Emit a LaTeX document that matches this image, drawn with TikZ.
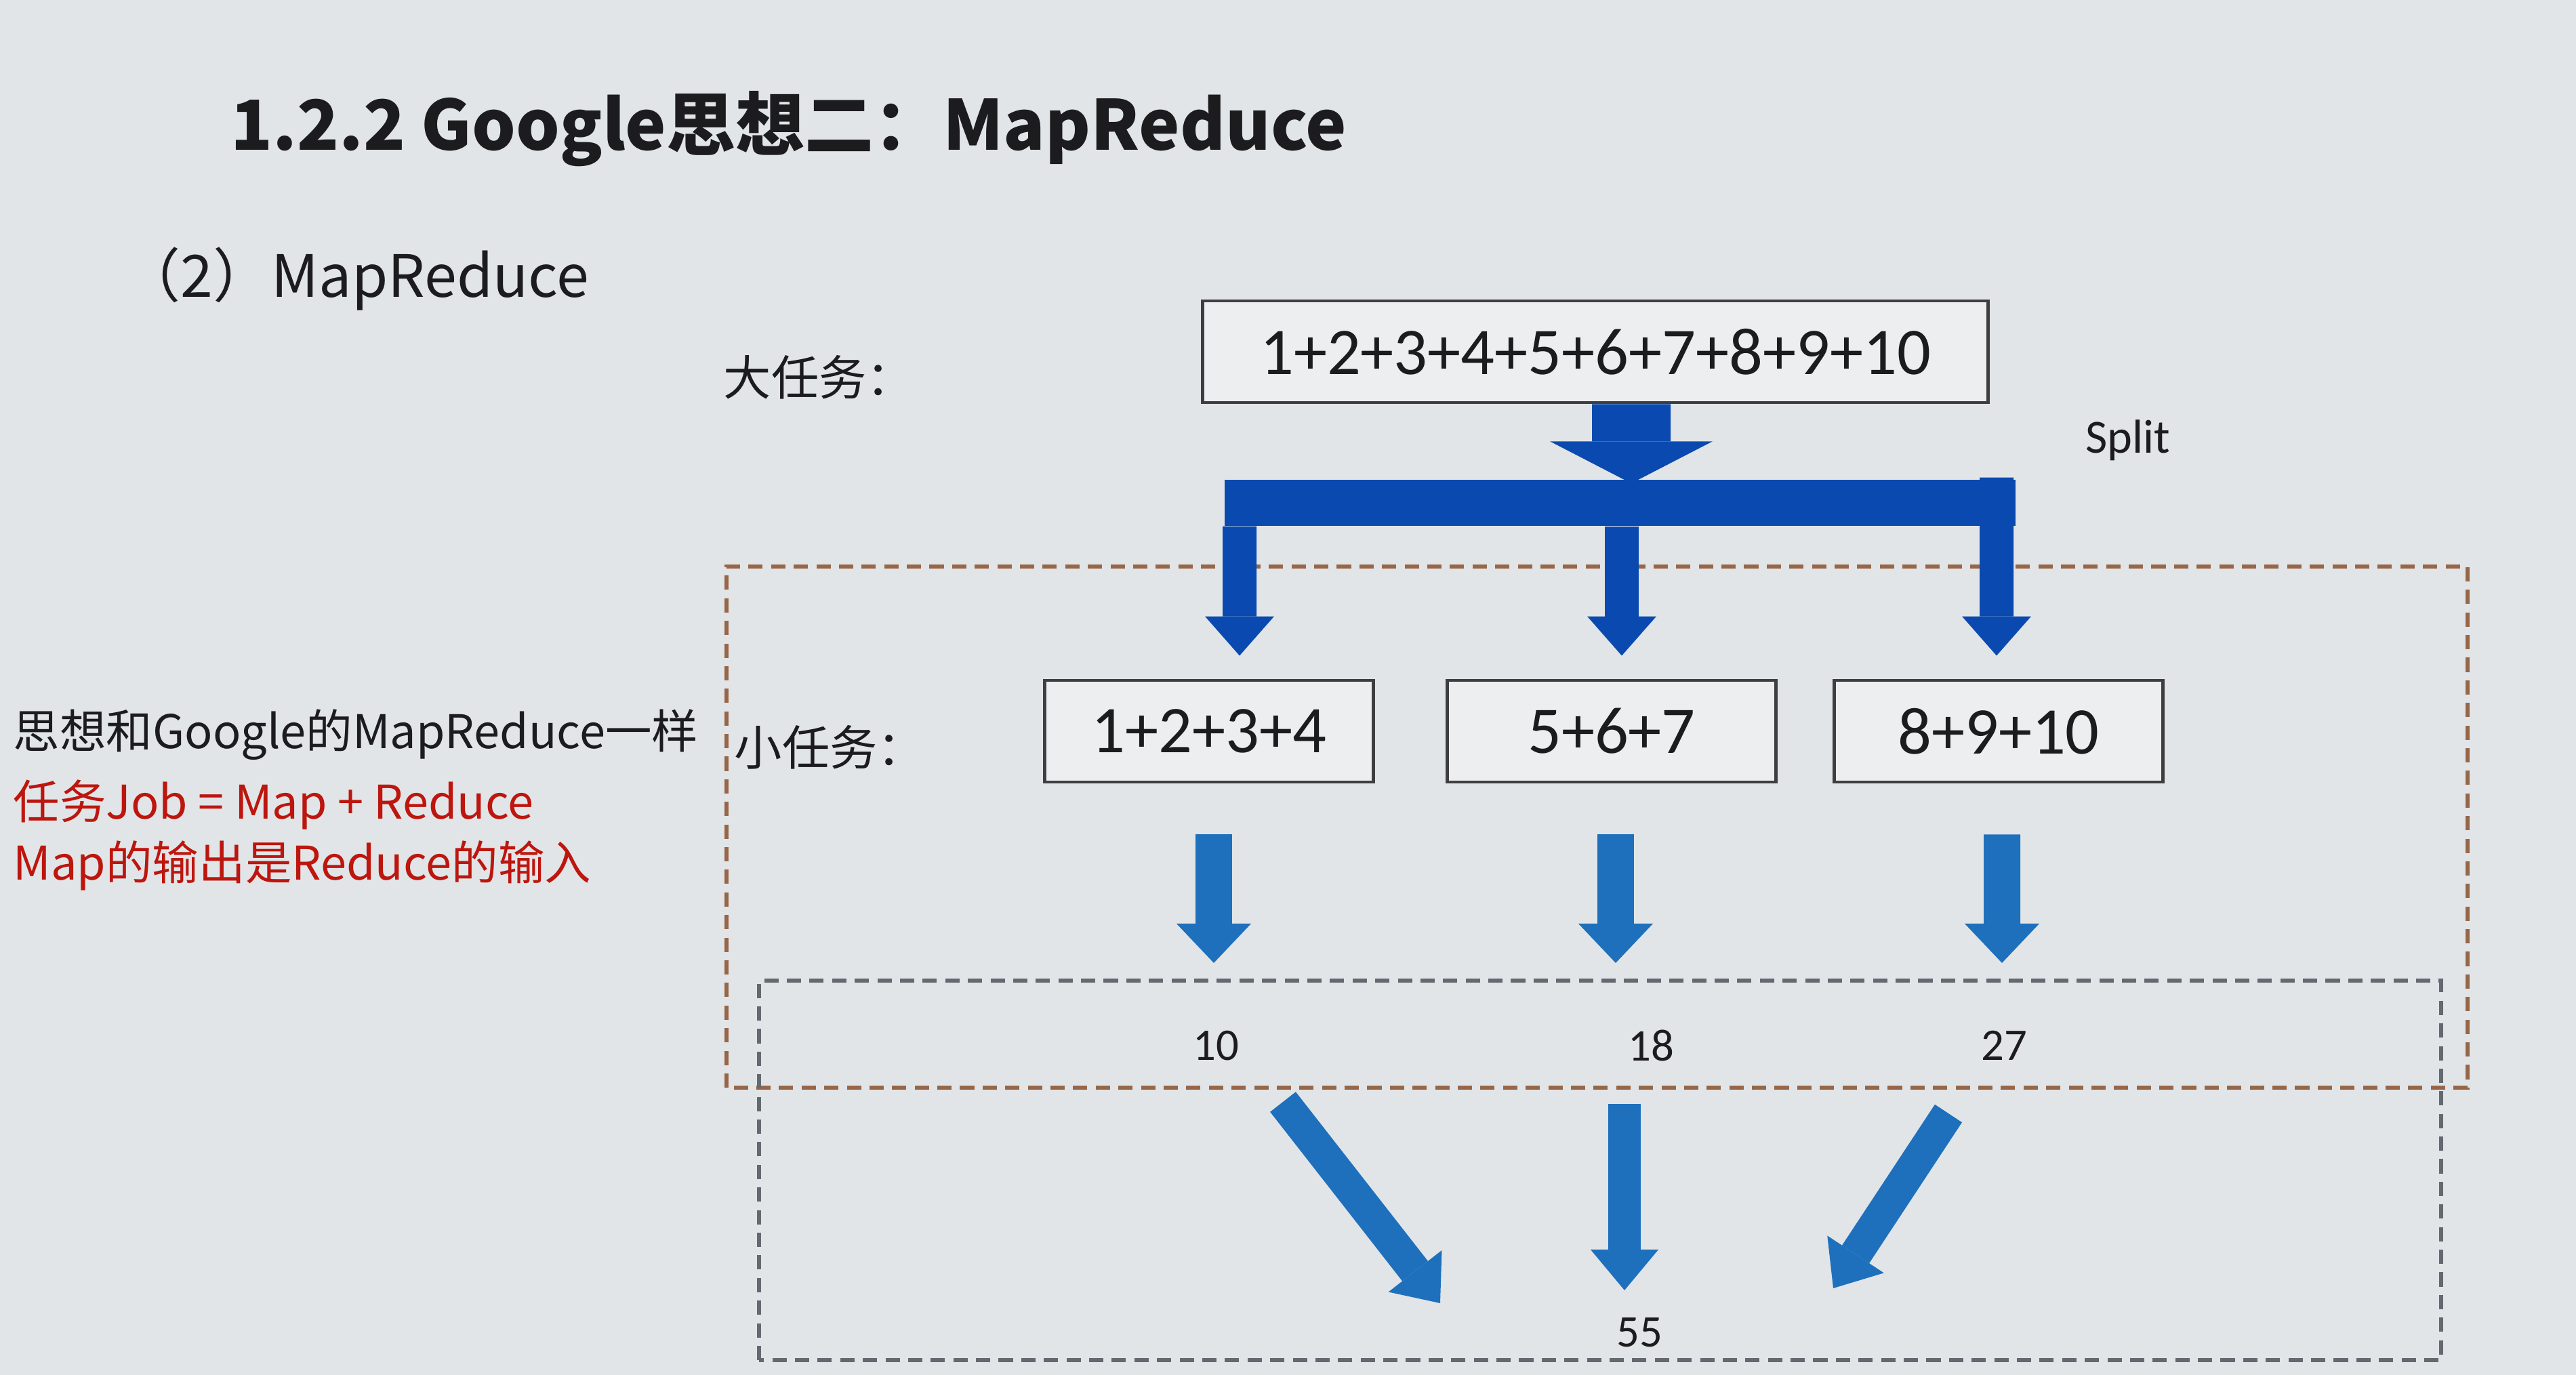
\documentclass[tikz,border=0pt]{standalone}
\usepackage{fontspec}
\setmainfont{Noto Sans CJK SC}
\newfontfamily\numfont{Carlito}
\usepackage{xcolor}
\usepackage{tikz}
\usetikzlibrary{arrows.meta}

\definecolor{slidebg}{RGB}{226,229,231}
\definecolor{inkgray}{RGB}{28,28,30}
\definecolor{splitblue}{RGB}{10,74,176}
\definecolor{mapblue}{RGB}{30,112,188}
\definecolor{mapbrown}{RGB}{150,102,72}
\definecolor{reducegray}{RGB}{100,104,112}
\definecolor{notered}{RGB}{188,22,14}

\begin{document}
\begin{tikzpicture}[
    every node/.style={inner sep=0pt, text=inkgray},
    taskbox/.style={draw=inkgray!85, line width=1.4pt, fill=white!35!slidebg, minimum height=1.5cm, font=\numfont\fontsize{28}{32}\selectfont},
    lbl/.style={anchor=west, font=\fontsize{20}{24}\selectfont},
    note/.style={anchor=west, font=\fontsize{19.5}{24}\selectfont, text=notered},
    result/.style={font=\numfont\fontsize{19}{22}\selectfont},
    frame/.style={line width=1.6pt, dash pattern=on 6pt off 3.5pt},
    splitarrow/.style={draw=splitblue, line width=0.5cm, -{Triangle[length=0.58cm, width=1.02cm, line width=0pt]}},
    maparrow/.style={draw=mapblue, line width=0.54cm, -{Triangle[length=0.58cm, width=1.1cm, line width=0pt]}},
    reducearrow/.style={draw=mapblue, line width=0.48cm, -{Triangle[length=0.6cm, width=1.0cm, line width=0pt]}}
  ]
  \fill[slidebg] (0,0) rectangle (38.01,20.29);

  \node[anchor=west, font=\bfseries\fontsize{29}{35}\selectfont] (title) at (3.40,18.39) {1.2.2 Google思想二：MapReduce};
  \node[anchor=west, font=\fontsize{24.5}{28}\selectfont] (sub) at (1.80,16.17) {（2）MapReduce};

  \node[lbl, font=\fontsize{19.5}{24}\selectfont] (idea) at (0.19,9.45) {思想和Google的MapReduce一样};
  \node[note] (job) at (0.19,8.41) {任务Job = Map + Reduce};
  \node[note] (flow) at (0.19,7.52) {Map的输出是Reduce的输入};

  \draw[frame, mapbrown] (10.72,4.24) rectangle (36.41,11.93);
  \draw[frame, reducegray] (11.20,0.22) rectangle (36.02,5.82);

  \node[lbl] (biglbl) at (10.67,14.72) {大任务：};
  \node[taskbox, minimum width=11.59cm] (big) at (23.54,15.10) {1+2+3+4+5+6+7+8+9+10};
  \node[font=\numfont\fontsize{20}{24}\selectfont] (splitlbl) at (31.40,13.79) {Split};

  \node[fill=splitblue, minimum width=11.67cm, minimum height=0.68cm] (bar) at (23.90,12.87) {};
  \draw[draw=splitblue, line width=1.16cm, -{Triangle[length=0.62cm, width=2.4cm, line width=0pt]}]
    ([xshift=0.53cm]big.south) -- ([xshift=0.17cm, yshift=-0.06cm]bar.north);

  \node[lbl] (smalllbl) at (10.83,9.26) {小任务：};
  \node[taskbox, minimum width=4.85cm] (t1) at (17.84,9.50) {1+2+3+4};
  \node[taskbox, minimum width=4.85cm] (t2) at (23.78,9.50) {5+6+7};
  \node[taskbox, minimum width=4.85cm] (t3) at (29.49,9.50) {8+9+10};

  \draw[splitarrow] ([xshift=-5.61cm]bar.south) -- ([xshift=0.45cm, yshift=0.34cm]t1.north);
  \draw[splitarrow] ([xshift=0.03cm]bar.south) -- ([xshift=0.15cm, yshift=0.34cm]t2.north);
  \draw[splitarrow] ([xshift=5.56cm, yshift=0.72cm]bar.south) -- ([xshift=-0.03cm, yshift=0.34cm]t3.north);

  \node[result] (r1) at (17.94,4.86) {10};
  \node[result] (r2) at (24.36,4.86) {18};
  \node[result] (r3) at (29.57,4.86) {27};
  \node[result] (sum) at (24.19,0.63) {55};

  \draw[maparrow] ([xshift=0.07cm, yshift=-0.75cm]t1.south) -- ([xshift=-0.03cm, yshift=1.22cm]r1.center);
  \draw[maparrow] ([xshift=0.06cm, yshift=-0.75cm]t2.south) -- ([xshift=-0.52cm, yshift=1.22cm]r2.center);
  \draw[maparrow] ([xshift=0.05cm, yshift=-0.75cm]t3.south) -- ([xshift=-0.03cm, yshift=1.22cm]r3.center);

  \draw[reducearrow] ([xshift=0.99cm, yshift=-0.83cm]r1.center) -- ([xshift=-2.94cm, yshift=0.43cm]sum.center);
  \draw[reducearrow] ([xshift=-0.39cm, yshift=-0.86cm]r2.center) -- ([xshift=-0.22cm, yshift=0.62cm]sum.center);
  \draw[reducearrow] ([xshift=-0.82cm, yshift=-1.00cm]r3.center) -- ([xshift=2.86cm, yshift=0.65cm]sum.center);
\end{tikzpicture}
\end{document}
